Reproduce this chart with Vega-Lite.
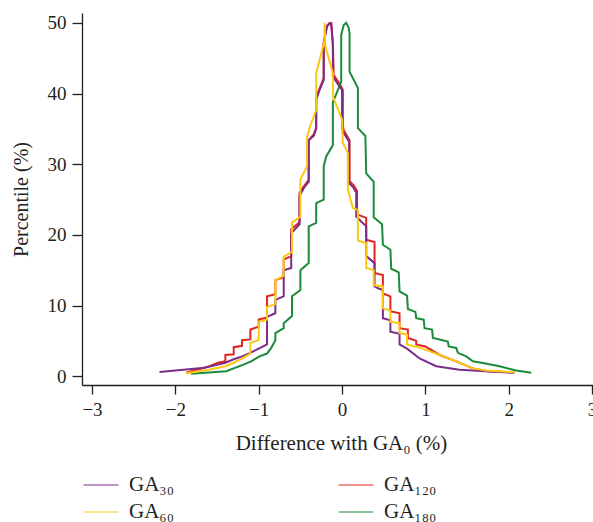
{
  "$schema": "https://vega.github.io/schema/vega-lite/v6.json",
  "width": 511,
  "height": 372,
  "autosize": {"type": "none"},
  "padding": {"left": 82, "top": 13, "right": 0, "bottom": 137},
  "background": "white",
  "config": {
    "view": {"stroke": null},
    "font": "Liberation Serif",
    "axis": {
      "grid": false,
      "domainColor": "#231F20",
      "domainWidth": 1.3,
      "tickColor": "#231F20",
      "tickWidth": 1.3,
      "tickSize": 9,
      "labelFont": "Liberation Serif",
      "labelFontSize": 19,
      "labelColor": "#231F20",
      "titleFont": "Liberation Serif",
      "titleFontSize": 20,
      "titleFontWeight": "normal",
      "titleColor": "#231F20",
      "labelFlush": false
    }
  },
  "data": {
    "values": [
      {"series": "GA₁₂₀", "i": 1, "diff": -1.87, "pct": 0.5},
      {"series": "GA₁₂₀", "i": 2, "diff": -1.59, "pct": 1.4},
      {"series": "GA₁₂₀", "i": 3, "diff": -1.49, "pct": 1.9},
      {"series": "GA₁₂₀", "i": 4, "diff": -1.40, "pct": 2.1},
      {"series": "GA₁₂₀", "i": 5, "diff": -1.40, "pct": 3.0},
      {"series": "GA₁₂₀", "i": 6, "diff": -1.30, "pct": 3.1},
      {"series": "GA₁₂₀", "i": 7, "diff": -1.30, "pct": 4.1},
      {"series": "GA₁₂₀", "i": 8, "diff": -1.20, "pct": 4.3},
      {"series": "GA₁₂₀", "i": 9, "diff": -1.20, "pct": 5.1},
      {"series": "GA₁₂₀", "i": 10, "diff": -1.10, "pct": 5.2},
      {"series": "GA₁₂₀", "i": 11, "diff": -1.10, "pct": 6.6},
      {"series": "GA₁₂₀", "i": 12, "diff": -1.00, "pct": 7.0},
      {"series": "GA₁₂₀", "i": 13, "diff": -1.00, "pct": 8.0},
      {"series": "GA₁₂₀", "i": 14, "diff": -0.90, "pct": 8.3},
      {"series": "GA₁₂₀", "i": 15, "diff": -0.90, "pct": 11.3},
      {"series": "GA₁₂₀", "i": 16, "diff": -0.80, "pct": 11.6},
      {"series": "GA₁₂₀", "i": 17, "diff": -0.80, "pct": 13.6},
      {"series": "GA₁₂₀", "i": 18, "diff": -0.70, "pct": 14.0},
      {"series": "GA₁₂₀", "i": 19, "diff": -0.70, "pct": 16.5},
      {"series": "GA₁₂₀", "i": 20, "diff": -0.61, "pct": 17.0},
      {"series": "GA₁₂₀", "i": 21, "diff": -0.61, "pct": 20.8},
      {"series": "GA₁₂₀", "i": 22, "diff": -0.51, "pct": 21.8},
      {"series": "GA₁₂₀", "i": 23, "diff": -0.51, "pct": 26.0},
      {"series": "GA₁₂₀", "i": 24, "diff": -0.45, "pct": 27.0},
      {"series": "GA₁₂₀", "i": 25, "diff": -0.40, "pct": 27.8},
      {"series": "GA₁₂₀", "i": 26, "diff": -0.40, "pct": 33.4},
      {"series": "GA₁₂₀", "i": 27, "diff": -0.34, "pct": 34.2},
      {"series": "GA₁₂₀", "i": 28, "diff": -0.31, "pct": 35.2},
      {"series": "GA₁₂₀", "i": 29, "diff": -0.31, "pct": 39.5},
      {"series": "GA₁₂₀", "i": 30, "diff": -0.27, "pct": 40.7},
      {"series": "GA₁₂₀", "i": 31, "diff": -0.22, "pct": 42.2},
      {"series": "GA₁₂₀", "i": 32, "diff": -0.22, "pct": 47.3},
      {"series": "GA₁₂₀", "i": 33, "diff": -0.18, "pct": 49.6},
      {"series": "GA₁₂₀", "i": 34, "diff": -0.15, "pct": 50.0},
      {"series": "GA₁₂₀", "i": 35, "diff": -0.13, "pct": 50.0},
      {"series": "GA₁₂₀", "i": 36, "diff": -0.11, "pct": 47.0},
      {"series": "GA₁₂₀", "i": 37, "diff": -0.10, "pct": 42.6},
      {"series": "GA₁₂₀", "i": 38, "diff": -0.02, "pct": 41.2},
      {"series": "GA₁₂₀", "i": 39, "diff": 0.01, "pct": 40.5},
      {"series": "GA₁₂₀", "i": 40, "diff": 0.01, "pct": 35.5},
      {"series": "GA₁₂₀", "i": 41, "diff": 0.02, "pct": 34.8},
      {"series": "GA₁₂₀", "i": 42, "diff": 0.09, "pct": 33.4},
      {"series": "GA₁₂₀", "i": 43, "diff": 0.09, "pct": 27.6},
      {"series": "GA₁₂₀", "i": 44, "diff": 0.14, "pct": 27.0},
      {"series": "GA₁₂₀", "i": 45, "diff": 0.18, "pct": 26.2},
      {"series": "GA₁₂₀", "i": 46, "diff": 0.18, "pct": 22.9},
      {"series": "GA₁₂₀", "i": 47, "diff": 0.29, "pct": 22.4},
      {"series": "GA₁₂₀", "i": 48, "diff": 0.29, "pct": 19.3},
      {"series": "GA₁₂₀", "i": 49, "diff": 0.39, "pct": 19.0},
      {"series": "GA₁₂₀", "i": 50, "diff": 0.39, "pct": 14.6},
      {"series": "GA₁₂₀", "i": 51, "diff": 0.49, "pct": 14.3},
      {"series": "GA₁₂₀", "i": 52, "diff": 0.49, "pct": 11.7},
      {"series": "GA₁₂₀", "i": 53, "diff": 0.58, "pct": 11.3},
      {"series": "GA₁₂₀", "i": 54, "diff": 0.58, "pct": 9.2},
      {"series": "GA₁₂₀", "i": 55, "diff": 0.69, "pct": 8.9},
      {"series": "GA₁₂₀", "i": 56, "diff": 0.69, "pct": 6.8},
      {"series": "GA₁₂₀", "i": 57, "diff": 0.79, "pct": 6.6},
      {"series": "GA₁₂₀", "i": 58, "diff": 0.79, "pct": 5.4},
      {"series": "GA₁₂₀", "i": 59, "diff": 0.89, "pct": 5.0},
      {"series": "GA₁₂₀", "i": 60, "diff": 0.89, "pct": 4.5},
      {"series": "GA₁₂₀", "i": 61, "diff": 1.00, "pct": 4.2},
      {"series": "GA₁₂₀", "i": 62, "diff": 1.17, "pct": 3.0},
      {"series": "GA₁₂₀", "i": 63, "diff": 1.37, "pct": 2.1},
      {"series": "GA₁₂₀", "i": 64, "diff": 1.57, "pct": 1.1},
      {"series": "GA₁₂₀", "i": 65, "diff": 1.75, "pct": 0.7},
      {"series": "GA₁₂₀", "i": 66, "diff": 2.05, "pct": 0.55},

      {"series": "GA₁₈₀", "i": 1, "diff": -1.81, "pct": 0.35},
      {"series": "GA₁₈₀", "i": 2, "diff": -1.39, "pct": 0.7},
      {"series": "GA₁₈₀", "i": 3, "diff": -1.19, "pct": 1.6},
      {"series": "GA₁₈₀", "i": 4, "diff": -1.09, "pct": 2.1},
      {"series": "GA₁₈₀", "i": 5, "diff": -0.99, "pct": 2.8},
      {"series": "GA₁₈₀", "i": 6, "diff": -0.90, "pct": 3.2},
      {"series": "GA₁₈₀", "i": 7, "diff": -0.85, "pct": 4.0},
      {"series": "GA₁₈₀", "i": 8, "diff": -0.80, "pct": 5.1},
      {"series": "GA₁₈₀", "i": 9, "diff": -0.80, "pct": 6.1},
      {"series": "GA₁₈₀", "i": 10, "diff": -0.70, "pct": 6.8},
      {"series": "GA₁₈₀", "i": 11, "diff": -0.70, "pct": 7.5},
      {"series": "GA₁₈₀", "i": 12, "diff": -0.60, "pct": 8.5},
      {"series": "GA₁₈₀", "i": 13, "diff": -0.60, "pct": 11.3},
      {"series": "GA₁₈₀", "i": 14, "diff": -0.50, "pct": 12.2},
      {"series": "GA₁₈₀", "i": 15, "diff": -0.50, "pct": 15.0},
      {"series": "GA₁₈₀", "i": 16, "diff": -0.40, "pct": 16.0},
      {"series": "GA₁₈₀", "i": 17, "diff": -0.40, "pct": 21.2},
      {"series": "GA₁₈₀", "i": 18, "diff": -0.31, "pct": 21.7},
      {"series": "GA₁₈₀", "i": 19, "diff": -0.31, "pct": 24.5},
      {"series": "GA₁₈₀", "i": 20, "diff": -0.22, "pct": 25.0},
      {"series": "GA₁₈₀", "i": 21, "diff": -0.22, "pct": 29.7},
      {"series": "GA₁₈₀", "i": 22, "diff": -0.19, "pct": 31.1},
      {"series": "GA₁₈₀", "i": 23, "diff": -0.11, "pct": 32.7},
      {"series": "GA₁₈₀", "i": 24, "diff": -0.11, "pct": 38.8},
      {"series": "GA₁₈₀", "i": 25, "diff": -0.05, "pct": 40.5},
      {"series": "GA₁₈₀", "i": 26, "diff": -0.01, "pct": 41.7},
      {"series": "GA₁₈₀", "i": 27, "diff": -0.01, "pct": 48.3},
      {"series": "GA₁₈₀", "i": 28, "diff": 0.02, "pct": 49.7},
      {"series": "GA₁₈₀", "i": 29, "diff": 0.05, "pct": 50.0},
      {"series": "GA₁₈₀", "i": 30, "diff": 0.08, "pct": 49.3},
      {"series": "GA₁₈₀", "i": 31, "diff": 0.09, "pct": 48.5},
      {"series": "GA₁₈₀", "i": 32, "diff": 0.09, "pct": 43.1},
      {"series": "GA₁₈₀", "i": 33, "diff": 0.19, "pct": 40.8},
      {"series": "GA₁₈₀", "i": 34, "diff": 0.19, "pct": 35.1},
      {"series": "GA₁₈₀", "i": 35, "diff": 0.28, "pct": 34.0},
      {"series": "GA₁₈₀", "i": 36, "diff": 0.29, "pct": 28.7},
      {"series": "GA₁₈₀", "i": 37, "diff": 0.38, "pct": 27.5},
      {"series": "GA₁₈₀", "i": 38, "diff": 0.38, "pct": 22.5},
      {"series": "GA₁₈₀", "i": 39, "diff": 0.48, "pct": 21.5},
      {"series": "GA₁₈₀", "i": 40, "diff": 0.49, "pct": 18.6},
      {"series": "GA₁₈₀", "i": 41, "diff": 0.58, "pct": 17.9},
      {"series": "GA₁₈₀", "i": 42, "diff": 0.59, "pct": 15.2},
      {"series": "GA₁₈₀", "i": 43, "diff": 0.68, "pct": 14.7},
      {"series": "GA₁₈₀", "i": 44, "diff": 0.69, "pct": 12.0},
      {"series": "GA₁₈₀", "i": 45, "diff": 0.78, "pct": 11.4},
      {"series": "GA₁₈₀", "i": 46, "diff": 0.79, "pct": 9.5},
      {"series": "GA₁₈₀", "i": 47, "diff": 0.88, "pct": 9.1},
      {"series": "GA₁₈₀", "i": 48, "diff": 0.89, "pct": 8.2},
      {"series": "GA₁₈₀", "i": 49, "diff": 0.98, "pct": 8.0},
      {"series": "GA₁₈₀", "i": 50, "diff": 0.99, "pct": 6.8},
      {"series": "GA₁₈₀", "i": 51, "diff": 1.08, "pct": 6.6},
      {"series": "GA₁₈₀", "i": 52, "diff": 1.09, "pct": 5.4},
      {"series": "GA₁₈₀", "i": 53, "diff": 1.17, "pct": 5.2},
      {"series": "GA₁₈₀", "i": 54, "diff": 1.27, "pct": 4.9},
      {"series": "GA₁₈₀", "i": 55, "diff": 1.28, "pct": 4.2},
      {"series": "GA₁₈₀", "i": 56, "diff": 1.37, "pct": 4.0},
      {"series": "GA₁₈₀", "i": 57, "diff": 1.39, "pct": 3.3},
      {"series": "GA₁₈₀", "i": 58, "diff": 1.49, "pct": 2.8},
      {"series": "GA₁₈₀", "i": 59, "diff": 1.57, "pct": 2.1},
      {"series": "GA₁₈₀", "i": 60, "diff": 1.69, "pct": 1.85},
      {"series": "GA₁₈₀", "i": 61, "diff": 1.89, "pct": 1.4},
      {"series": "GA₁₈₀", "i": 62, "diff": 2.09, "pct": 0.8},
      {"series": "GA₁₈₀", "i": 63, "diff": 2.27, "pct": 0.5},

      {"series": "GA₃₀", "i": 1, "diff": -2.19, "pct": 0.6},
      {"series": "GA₃₀", "i": 2, "diff": -1.65, "pct": 1.2},
      {"series": "GA₃₀", "i": 3, "diff": -1.50, "pct": 1.6},
      {"series": "GA₃₀", "i": 4, "diff": -1.40, "pct": 1.9},
      {"series": "GA₃₀", "i": 5, "diff": -1.30, "pct": 2.4},
      {"series": "GA₃₀", "i": 6, "diff": -1.20, "pct": 2.8},
      {"series": "GA₃₀", "i": 7, "diff": -1.10, "pct": 3.3},
      {"series": "GA₃₀", "i": 8, "diff": -1.00, "pct": 3.9},
      {"series": "GA₃₀", "i": 9, "diff": -0.90, "pct": 4.5},
      {"series": "GA₃₀", "i": 10, "diff": -0.90, "pct": 8.4},
      {"series": "GA₃₀", "i": 11, "diff": -0.80, "pct": 8.9},
      {"series": "GA₃₀", "i": 12, "diff": -0.80, "pct": 10.8},
      {"series": "GA₃₀", "i": 13, "diff": -0.70, "pct": 11.3},
      {"series": "GA₃₀", "i": 14, "diff": -0.70, "pct": 15.0},
      {"series": "GA₃₀", "i": 15, "diff": -0.61, "pct": 15.3},
      {"series": "GA₃₀", "i": 16, "diff": -0.61, "pct": 20.2},
      {"series": "GA₃₀", "i": 17, "diff": -0.51, "pct": 21.5},
      {"series": "GA₃₀", "i": 18, "diff": -0.51, "pct": 25.5},
      {"series": "GA₃₀", "i": 19, "diff": -0.45, "pct": 26.8},
      {"series": "GA₃₀", "i": 20, "diff": -0.40, "pct": 27.5},
      {"series": "GA₃₀", "i": 21, "diff": -0.40, "pct": 33.4},
      {"series": "GA₃₀", "i": 22, "diff": -0.34, "pct": 34.0},
      {"series": "GA₃₀", "i": 23, "diff": -0.31, "pct": 35.0},
      {"series": "GA₃₀", "i": 24, "diff": -0.31, "pct": 39.1},
      {"series": "GA₃₀", "i": 25, "diff": -0.27, "pct": 40.5},
      {"series": "GA₃₀", "i": 26, "diff": -0.22, "pct": 41.9},
      {"series": "GA₃₀", "i": 27, "diff": -0.22, "pct": 47.1},
      {"series": "GA₃₀", "i": 28, "diff": -0.18, "pct": 49.5},
      {"series": "GA₃₀", "i": 29, "diff": -0.15, "pct": 49.9},
      {"series": "GA₃₀", "i": 30, "diff": -0.13, "pct": 49.9},
      {"series": "GA₃₀", "i": 31, "diff": -0.11, "pct": 47.0},
      {"series": "GA₃₀", "i": 32, "diff": -0.11, "pct": 42.4},
      {"series": "GA₃₀", "i": 33, "diff": -0.03, "pct": 41.0},
      {"series": "GA₃₀", "i": 34, "diff": 0.00, "pct": 40.5},
      {"series": "GA₃₀", "i": 35, "diff": 0.00, "pct": 35.3},
      {"series": "GA₃₀", "i": 36, "diff": 0.01, "pct": 34.6},
      {"series": "GA₃₀", "i": 37, "diff": 0.085, "pct": 33.2},
      {"series": "GA₃₀", "i": 38, "diff": 0.085, "pct": 27.3},
      {"series": "GA₃₀", "i": 39, "diff": 0.13, "pct": 26.8},
      {"series": "GA₃₀", "i": 40, "diff": 0.17, "pct": 26.0},
      {"series": "GA₃₀", "i": 41, "diff": 0.17, "pct": 22.6},
      {"series": "GA₃₀", "i": 42, "diff": 0.22, "pct": 22.0},
      {"series": "GA₃₀", "i": 43, "diff": 0.29, "pct": 21.2},
      {"series": "GA₃₀", "i": 44, "diff": 0.29, "pct": 17.0},
      {"series": "GA₃₀", "i": 45, "diff": 0.33, "pct": 16.6},
      {"series": "GA₃₀", "i": 46, "diff": 0.39, "pct": 16.0},
      {"series": "GA₃₀", "i": 47, "diff": 0.39, "pct": 12.7},
      {"series": "GA₃₀", "i": 48, "diff": 0.44, "pct": 12.4},
      {"series": "GA₃₀", "i": 49, "diff": 0.49, "pct": 12.2},
      {"series": "GA₃₀", "i": 50, "diff": 0.49, "pct": 8.2},
      {"series": "GA₃₀", "i": 51, "diff": 0.58, "pct": 7.9},
      {"series": "GA₃₀", "i": 52, "diff": 0.58, "pct": 6.3},
      {"series": "GA₃₀", "i": 53, "diff": 0.69, "pct": 6.0},
      {"series": "GA₃₀", "i": 54, "diff": 0.69, "pct": 4.5},
      {"series": "GA₃₀", "i": 55, "diff": 0.78, "pct": 3.9},
      {"series": "GA₃₀", "i": 56, "diff": 0.93, "pct": 2.5},
      {"series": "GA₃₀", "i": 57, "diff": 1.13, "pct": 1.4},
      {"series": "GA₃₀", "i": 58, "diff": 1.41, "pct": 0.9},
      {"series": "GA₃₀", "i": 59, "diff": 1.93, "pct": 0.55},
      {"series": "GA₃₀", "i": 60, "diff": 2.07, "pct": 0.5},

      {"series": "GA₆₀", "i": 1, "diff": -1.87, "pct": 0.4},
      {"series": "GA₆₀", "i": 2, "diff": -1.60, "pct": 0.9},
      {"series": "GA₆₀", "i": 3, "diff": -1.40, "pct": 1.4},
      {"series": "GA₆₀", "i": 4, "diff": -1.30, "pct": 1.9},
      {"series": "GA₆₀", "i": 5, "diff": -1.20, "pct": 2.5},
      {"series": "GA₆₀", "i": 6, "diff": -1.10, "pct": 3.2},
      {"series": "GA₆₀", "i": 7, "diff": -1.10, "pct": 4.7},
      {"series": "GA₆₀", "i": 8, "diff": -1.00, "pct": 5.1},
      {"series": "GA₆₀", "i": 9, "diff": -1.00, "pct": 7.7},
      {"series": "GA₆₀", "i": 10, "diff": -0.90, "pct": 8.0},
      {"series": "GA₆₀", "i": 11, "diff": -0.90, "pct": 9.8},
      {"series": "GA₆₀", "i": 12, "diff": -0.80, "pct": 10.2},
      {"series": "GA₆₀", "i": 13, "diff": -0.80, "pct": 13.6},
      {"series": "GA₆₀", "i": 14, "diff": -0.70, "pct": 14.2},
      {"series": "GA₆₀", "i": 15, "diff": -0.70, "pct": 16.9},
      {"series": "GA₆₀", "i": 16, "diff": -0.60, "pct": 17.6},
      {"series": "GA₆₀", "i": 17, "diff": -0.60, "pct": 21.7},
      {"series": "GA₆₀", "i": 18, "diff": -0.50, "pct": 22.6},
      {"series": "GA₆₀", "i": 19, "diff": -0.50, "pct": 27.8},
      {"series": "GA₆₀", "i": 20, "diff": -0.42, "pct": 29.7},
      {"series": "GA₆₀", "i": 21, "diff": -0.42, "pct": 33.9},
      {"series": "GA₆₀", "i": 22, "diff": -0.37, "pct": 35.8},
      {"series": "GA₆₀", "i": 23, "diff": -0.31, "pct": 37.7},
      {"series": "GA₆₀", "i": 24, "diff": -0.31, "pct": 42.9},
      {"series": "GA₆₀", "i": 25, "diff": -0.21, "pct": 47.5},
      {"series": "GA₆₀", "i": 26, "diff": -0.21, "pct": 50.0},
      {"series": "GA₆₀", "i": 27, "diff": -0.20, "pct": 46.7},
      {"series": "GA₆₀", "i": 28, "diff": -0.11, "pct": 42.9},
      {"series": "GA₆₀", "i": 29, "diff": -0.11, "pct": 39.6},
      {"series": "GA₆₀", "i": 30, "diff": 0.00, "pct": 36.3},
      {"series": "GA₆₀", "i": 31, "diff": 0.01, "pct": 33.0},
      {"series": "GA₆₀", "i": 32, "diff": 0.07, "pct": 31.6},
      {"series": "GA₆₀", "i": 33, "diff": 0.07, "pct": 26.4},
      {"series": "GA₆₀", "i": 34, "diff": 0.13, "pct": 23.8},
      {"series": "GA₆₀", "i": 35, "diff": 0.19, "pct": 23.5},
      {"series": "GA₆₀", "i": 36, "diff": 0.19, "pct": 19.2},
      {"series": "GA₆₀", "i": 37, "diff": 0.29, "pct": 18.8},
      {"series": "GA₆₀", "i": 38, "diff": 0.29, "pct": 15.3},
      {"series": "GA₆₀", "i": 39, "diff": 0.38, "pct": 15.0},
      {"series": "GA₆₀", "i": 40, "diff": 0.38, "pct": 12.9},
      {"series": "GA₆₀", "i": 41, "diff": 0.49, "pct": 12.7},
      {"series": "GA₆₀", "i": 42, "diff": 0.49, "pct": 9.6},
      {"series": "GA₆₀", "i": 43, "diff": 0.58, "pct": 9.3},
      {"series": "GA₆₀", "i": 44, "diff": 0.58, "pct": 7.7},
      {"series": "GA₆₀", "i": 45, "diff": 0.69, "pct": 7.5},
      {"series": "GA₆₀", "i": 46, "diff": 0.69, "pct": 6.1},
      {"series": "GA₆₀", "i": 47, "diff": 0.78, "pct": 5.9},
      {"series": "GA₆₀", "i": 48, "diff": 0.78, "pct": 4.5},
      {"series": "GA₆₀", "i": 49, "diff": 0.97, "pct": 3.9},
      {"series": "GA₆₀", "i": 50, "diff": 1.17, "pct": 3.0},
      {"series": "GA₆₀", "i": 51, "diff": 1.37, "pct": 2.1},
      {"series": "GA₆₀", "i": 52, "diff": 1.57, "pct": 1.1},
      {"series": "GA₆₀", "i": 53, "diff": 1.73, "pct": 0.8},
      {"series": "GA₆₀", "i": 54, "diff": 2.07, "pct": 0.55}
    ]
  },
  "mark": {"type": "line", "strokeWidth": 2, "strokeJoin": "miter"},
  "encoding": {
    "x": {
      "field": "diff",
      "type": "quantitative",
      "scale": {"domain": [-3.12, 3.011], "nice": false, "zero": false},
      "axis": {
        "values": [-3, -2, -1, 0, 1, 2, 3],
        "format": "d",
        "title": "Difference with GA₀ (%)",
        "titleFontSize": 21,
        "titleX": 259,
        "labelPadding": 6,
        "titlePadding": 13
      }
    },
    "y": {
      "field": "pct",
      "type": "quantitative",
      "scale": {"domain": [-1.25, 51.4], "nice": false, "zero": false},
      "axis": {
        "values": [0, 10, 20, 30, 40, 50],
        "title": "Percentile (%)",
        "tickSize": 10,
        "labelPadding": 6,
        "titlePadding": 16
      }
    },
    "color": {
      "field": "series",
      "type": "nominal",
      "scale": {
        "domain": ["GA₃₀", "GA₁₂₀", "GA₆₀", "GA₁₈₀"],
        "range": ["#7B2C8B", "#E0261E", "#FCC812", "#1B8A3A"]
      },
      "legend": {
        "title": null,
        "orient": "none",
        "legendX": 8,
        "legendY": 461,
        "direction": "horizontal",
        "columns": 2,
        "columnPadding": 162,
        "rowPadding": 6,
        "padding": 0,
        "symbolType": "M-1.75,0H1.75",
        "symbolSize": 400,
        "symbolStrokeWidth": 1.2,
        "labelFont": "Liberation Serif",
        "labelFontSize": 21,
        "labelOffset": 17,
        "labelColor": "#231F20"
      }
    },
    "order": {"field": "i", "type": "quantitative"}
  }
}
